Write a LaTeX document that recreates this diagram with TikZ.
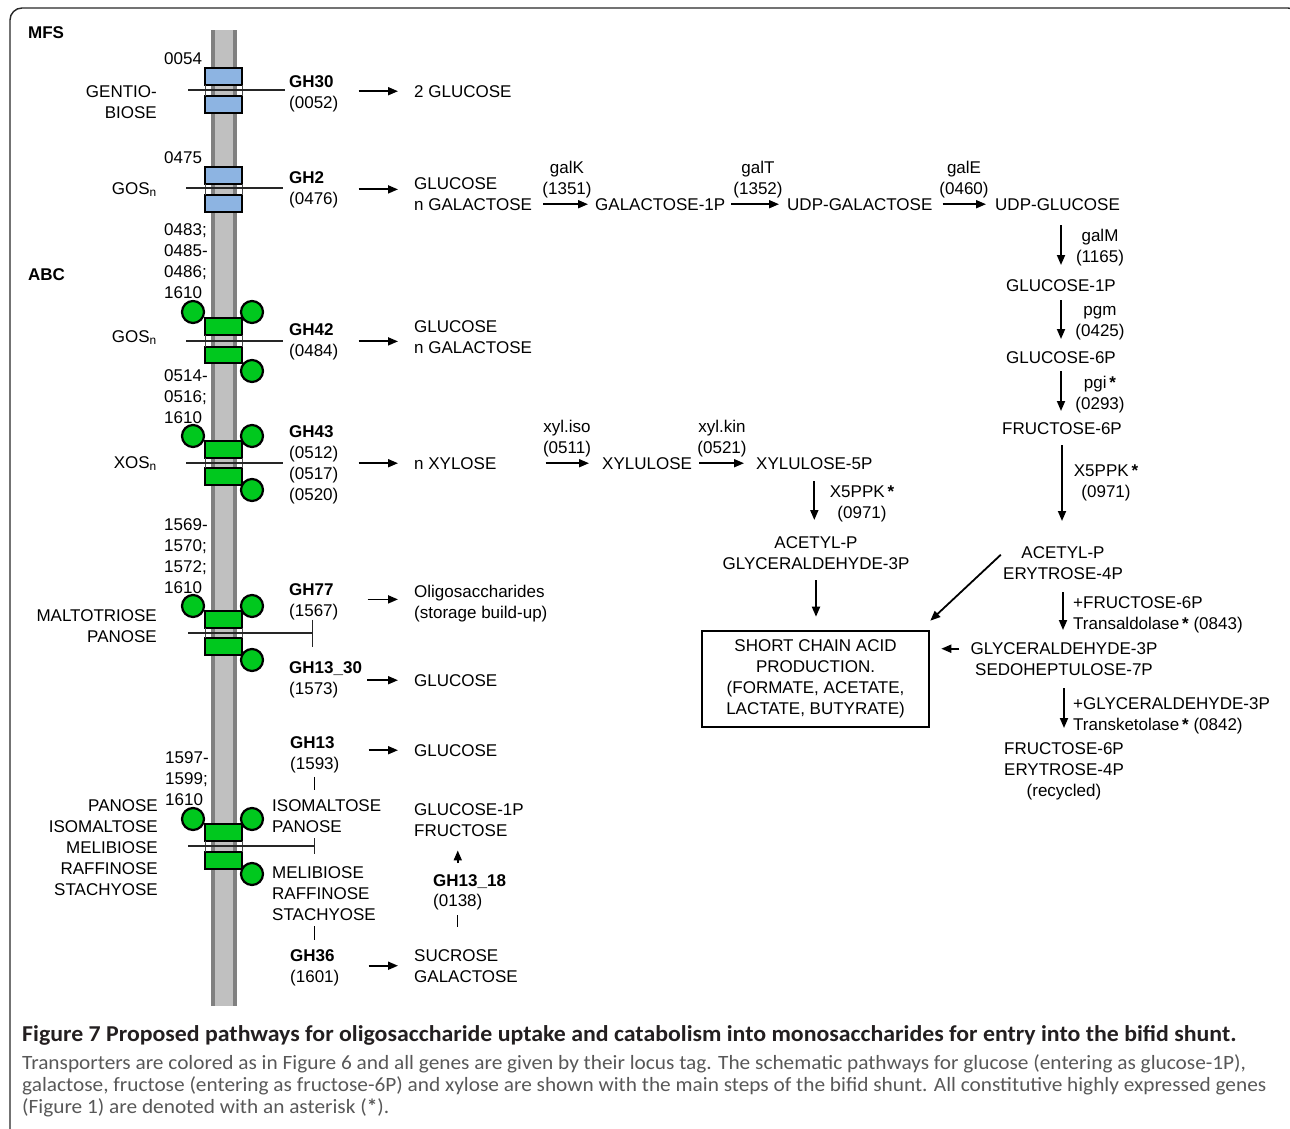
\documentclass[tikz,border=0pt]{standalone}
\usepackage{fontspec}
\setmainfont{Liberation Sans}
\newfontfamily\capfont[FakeStretch=1.05]{Carlito}
\usetikzlibrary{arrows.meta}
\definecolor{MembraneClr}{RGB}{192,192,192}
\definecolor{MembraneEdgeClr}{RGB}{128,128,128}
\definecolor{MfsClr}{RGB}{141,180,226}
\definecolor{AbcClr}{RGB}{0,200,30}
\definecolor{FrameClr}{RGB}{40,40,40}
\definecolor{CaptionClr}{RGB}{88,88,88}
\definecolor{TitleClr}{RGB}{35,31,32}

\begin{document}
\begin{tikzpicture}[x=1pt,y=-1pt,
  lbl/.style={inner sep=0pt,font=\fontsize{17}{21}\selectfont},
  arr/.style={line width=1.8pt,-{Triangle[length=10pt,width=8pt]}},
  memline/.style={line width=1.4pt,color=black!85},
  tickline/.style={line width=1.4pt},
  mfs/.style={draw,line width=2.2pt,fill=MfsClr},
  abc/.style={draw,line width=2.2pt,fill=AbcClr},
  gap/.style={line width=0.7pt,color=black!70},
  captitle/.style={inner sep=0pt,text=TitleClr,font=\capfont\fontsize{22.7}{26}\selectfont\bfseries},
  capbody/.style={inner sep=0pt,text=CaptionClr,font=\capfont\fontsize{20.3}{22}\selectfont}]
\useasboundingbox (0,0) rectangle (1290,1129);
\clip (0,0) rectangle (1290,1129);

% frame
\draw[FrameClr,line width=1.4pt,rounded corners=12pt] (10,8) rectangle (1300,1150);

% membrane
\fill[MembraneEdgeClr] (211,30) rectangle (237,1006);
\fill[MembraneClr] (215,30) rectangle (233,1006);

% MFS transporters
\draw[mfs] (205,68) rectangle (242,85);
\draw[mfs] (205,96) rectangle (242,113);
\draw[gap] (205,85) -- (205,96) (242,85) -- (242,96);
\draw[memline] (188,90) -- (285,90);

\draw[mfs] (205,167) rectangle (242,184);
\draw[mfs] (205,195) rectangle (242,212);
\draw[gap] (205,184) -- (205,195) (242,184) -- (242,195);
\draw[memline] (186,188) -- (283,188);

% ABC transporters
\draw[abc] (205,318) rectangle (242,335);
\draw[abc] (205,347) rectangle (242,363);
\draw[gap] (205,335) -- (205,347) (242,335) -- (242,347);
\draw[abc] (193,312) circle (11) (252,312) circle (11) (252,371) circle (11);
\draw[memline] (186,341) -- (283,341);

\draw[abc] (205,441) rectangle (242,458);
\draw[abc] (205,468) rectangle (242,485);
\draw[gap] (205,458) -- (205,468) (242,458) -- (242,468);
\draw[abc] (193,436) circle (11) (252,436) circle (11) (252,490) circle (11);
\draw[memline] (186,463) -- (283,463);

\draw[abc] (205,611) rectangle (242,628);
\draw[abc] (205,638) rectangle (242,655);
\draw[gap] (205,628) -- (205,638) (242,628) -- (242,638);
\draw[abc] (193,606) circle (11) (252,606) circle (11) (252,660) circle (11);
\draw[memline,-{Bar[width=27pt]}] (188,633) -- (313,633);

\draw[abc] (205,824) rectangle (242,841);
\draw[abc] (205,852) rectangle (242,869);
\draw[gap] (205,841) -- (205,852) (242,841) -- (242,852);
\draw[abc] (193,819) circle (11) (252,819) circle (11) (252,874) circle (11);
\draw[memline,-{Bar[width=16pt]}] (188,846) -- (315,846);

% left labels
\node[lbl,anchor=north west,font=\fontsize{17}{21}\selectfont\bfseries] (mfs) at (28,26) {MFS};
\node[lbl,anchor=north west,font=\fontsize{17}{21}\selectfont\bfseries] (abc) at (28,268) {ABC};
\node[lbl,anchor=north west] (t0054) at (164,52) {0054};
\node[lbl,anchor=north east,align=right] (gentio) at (157,85) {GENTIO-\\BIOSE};
\node[lbl,anchor=north west] (t0475) at (164,151) {0475};
\node[lbl,anchor=north east] (gosA) at (157,182) {GOS\textsubscript{n}};
\node[lbl,anchor=north west,align=left] (t0483) at (164,223) {0483;\\0485-\\0486;\\1610};
\node[lbl,anchor=north east] (gosB) at (157,330) {GOS\textsubscript{n}};
\node[lbl,anchor=north west,align=left] (t0514) at (164,369) {0514-\\0516;\\1610};
\node[lbl,anchor=north east] (xos) at (157,456) {XOS\textsubscript{n}};
\node[lbl,anchor=north west,align=left] (t1569) at (164,518) {1569-\\1570;\\1572;\\1610};
\node[lbl,anchor=north east,align=right] (malto) at (157,609) {MALTOTRIOSE\\PANOSE};
\node[lbl,anchor=north west,align=left] (t1597) at (165,751) {1597-\\1599;\\1610};
\node[lbl,anchor=north east,align=right] (panl) at (158,799) {PANOSE\\ISOMALTOSE\\MELIBIOSE\\RAFFINOSE\\STACHYOSE};

% glycoside hydrolases
\node[lbl,anchor=north west,align=left] (gh30) at (289,75) {\textbf{GH30}\\(0052)};
\node[lbl,anchor=north west,align=left] (gh2) at (289,171) {\textbf{GH2}\\(0476)};
\node[lbl,anchor=north west,align=left] (gh42) at (289,323) {\textbf{GH42}\\(0484)};
\node[lbl,anchor=north west,align=left] (gh43) at (289,425) {\textbf{GH43}\\(0512)\\(0517)\\(0520)};
\node[lbl,anchor=north west,align=left] (gh77) at (289,583) {\textbf{GH77}\\(1567)};
\node[lbl,anchor=north west,align=left] (gh1330) at (289,661) {\textbf{GH13\_30}\\(1573)};
\node[lbl,anchor=north west,align=left] (gh13) at (290,736) {\textbf{GH13}\\(1593)};
\node[lbl,anchor=north west,align=left] (isop) at (272,799) {ISOMALTOSE\\PANOSE};
\node[lbl,anchor=north west,align=left] (melr) at (272,866) {MELIBIOSE\\RAFFINOSE\\STACHYOSE};
\node[lbl,anchor=north west,align=left] (gh36) at (290,949) {\textbf{GH36}\\(1601)};

% products
\node[lbl,anchor=north west] (glcA) at (414,85) {2 GLUCOSE};
\node[lbl,anchor=north west,align=left] (glcgal) at (414,177) {GLUCOSE\\n GALACTOSE};
\node[lbl,anchor=north west,align=left] (glcgalB) at (414,320) {GLUCOSE\\n GALACTOSE};
\node[lbl,anchor=north west] (nxyl) at (414,457) {n XYLOSE};
\node[lbl,anchor=north west,align=left] (oligo) at (414,585) {Oligosaccharides\\(storage build-up)};
\node[lbl,anchor=north west] (glcB) at (414,674) {GLUCOSE};
\node[lbl,anchor=north west] (glcC) at (414,744) {GLUCOSE};
\node[lbl,anchor=north west,align=left] (glcfru) at (414,803) {GLUCOSE-1P\\FRUCTOSE};
\node[lbl,anchor=north west,font=\fontsize{17}{21}\selectfont\bfseries] (gh1318) at (433,874) {GH13\_18};
\node[lbl,anchor=north west] (id0138) at (433,894) {(0138)};
\node[lbl,anchor=north west,align=left] (sucgal) at (414,949) {SUCROSE\\GALACTOSE};

% galactose / glucose path
\node[lbl,anchor=north,align=center] (galk) at (567,161) {galK\\(1351)};
\node[lbl,anchor=north west] (gal1p) at (595,198) {GALACTOSE-1P};
\node[lbl,anchor=north,align=center] (galt) at (758,161) {galT\\(1352)};
\node[lbl,anchor=north west] (udpgal) at (787,198) {UDP-GALACTOSE};
\node[lbl,anchor=north,align=center] (gale) at (964,161) {galE\\(0460)};
\node[lbl,anchor=north west] (udpglc) at (995,198) {UDP-GLUCOSE};
\node[lbl,anchor=north,align=center] (galm) at (1100,229) {galM\\(1165)};
\node[lbl,anchor=north] (glc1p) at (1061,279) {GLUCOSE-1P};
\node[lbl,anchor=north,align=center] (pgm) at (1100,306) {pgm\\(0425)};
\node[lbl,anchor=north] (glc6p) at (1061,351) {GLUCOSE-6P};
\node[lbl,anchor=north,align=center] (pgi) at (1100,376) {pgi\,\textbf{*}\\(0293)};
\node[lbl,anchor=north] (fru6p) at (1062,422) {FRUCTOSE-6P};
\node[lbl,anchor=north,align=center] (xppkA) at (1106,465) {X5PPK\,\textbf{*}\\(0971)};
\node[lbl,anchor=north,align=center] (acet) at (1063,546) {ACETYL-P\\ERYTROSE-4P};
\node[lbl,anchor=north west,align=left] (tald) at (1073,596) {+FRUCTOSE-6P\\Transaldolase\,\textbf{*} (0843)};
\node[lbl,anchor=north,align=center] (gs7p) at (1064,642) {GLYCERALDEHYDE-3P\\SEDOHEPTULOSE-7P};
\node[lbl,anchor=north west,align=left] (tket) at (1073,697) {+GLYCERALDEHYDE-3P\\Transketolase\,\textbf{*} (0842)};
\node[lbl,anchor=north,align=center] (recyc) at (1064,742) {FRUCTOSE-6P\\ERYTROSE-4P\\(recycled)};

% xylose path
\node[lbl,anchor=north,align=center] (xyliso) at (567,420) {xyl.iso\\(0511)};
\node[lbl,anchor=north west] (xylu) at (602,457) {XYLULOSE};
\node[lbl,anchor=north,align=center] (xylkin) at (722,420) {xyl.kin\\(0521)};
\node[lbl,anchor=north west] (xyl5p) at (756,457) {XYLULOSE-5P};
\node[lbl,anchor=north,align=center] (xppkB) at (862,486) {X5PPK\,\textbf{*}\\(0971)};
\node[lbl,anchor=north,align=center] (xacet) at (816,536) {ACETYL-P\\GLYCERALDEHYDE-3P};
\node[lbl,draw,line width=2.6pt,align=center,minimum width=227pt,minimum height=96pt] (scfa) at (815.5,679)
  {SHORT CHAIN ACID\\PRODUCTION.\\(FORMATE, ACETATE,\\LACTATE, BUTYRATE)};

% hydrolysis arrows
\draw[arr,shorten <=20pt,shorten >=16pt] (gh30.east |- glcA.west) -- (glcA.west);
\draw[arr,shorten <=20pt,shorten >=16pt] (gh2.east) -- (gh2.east -| glcgal.west);
\draw[arr,shorten <=20pt,shorten >=16pt] (gh42.east) -- (gh42.east -| glcgalB.west);
\draw[arr,shorten <=20pt,shorten >=16pt] (gh43.east |- nxyl.west) -- (nxyl.west);
\draw[arr,shorten <=29pt,shorten >=16pt] ([yshift=2pt]gh77.east) -- ([yshift=2pt]gh77.east -| oligo.west);
\draw[arr,shorten <=5pt,shorten >=16pt] (gh1330.east |- glcB.west) -- (glcB.west);
\draw[arr,shorten <=29pt,shorten >=16pt] (gh13.east |- glcC.west) -- (glcC.west);
\draw[arr,shorten <=29pt,shorten >=16pt] (gh36.east |- sucgal.west) -- (sucgal.west);
\draw[arr,shorten <=11pt,shorten >=14pt] (id0138.north |- gh1318.north) -- (id0138.north |- glcfru.south);

\draw[tickline,shorten <=4pt,shorten >=9pt] (gh13.south) -- (gh13.south |- isop.north);
\draw[tickline,shorten <=6pt,shorten >=9pt] (gh36.north |- melr.south) -- (gh36.north);
\draw[tickline,shorten <=5pt,shorten >=22pt] (id0138.south) -- (id0138.south |- sucgal.north);

% pathway arrows
\draw[arr,shorten <=11pt,shorten >=7pt] (gal1p.west -| glcgal.east) -- (gal1p.west);
\draw[arr,shorten <=6pt,shorten >=8pt] (gal1p.east) -- (udpgal.west);
\draw[arr,shorten <=10pt,shorten >=9pt] (udpgal.east) -- (udpglc.west);
\draw[arr,shorten <=15pt,shorten >=14pt] (glc1p.north |- udpglc.south) -- (glc1p.north);
\draw[arr,shorten <=9pt,shorten >=12pt] (glc1p.south) -- (glc6p.north);
\draw[arr,shorten <=8pt,shorten >=11pt] (glc6p.south) -- (glc6p.south |- fru6p.north);
\draw[arr,shorten <=11pt,shorten >=25pt] (fru6p.south) -- (fru6p.south |- acet.north);
\draw[arr,shorten <=13pt,shorten >=12pt] (acet.south) -- (acet.south |- gs7p.north);
\draw[arr,shorten <=13pt,shorten >=14pt] (gs7p.south) -- (gs7p.south |- recyc.north);
\draw[arr,shorten <=3pt] ([yshift=10pt]acet.west) -- ([yshift=9pt]scfa.north east);
\draw[arr,shorten <=11pt,shorten >=11pt] ([yshift=10pt]gs7p.west) -- ([yshift=10pt]gs7p.west -| scfa.east);

\draw[arr,shorten <=49pt,shorten >=13pt] (nxyl.east) -- (xylu.west);
\draw[arr,shorten <=7pt,shorten >=12pt] (xylu.east) -- (xyl5p.west);
\draw[arr,shorten <=12pt,shorten >=16pt] (xyl5p.south) -- (xyl5p.south |- xacet.north);
\draw[arr,shorten <=11pt,shorten >=13pt] (xacet.south) -- (xacet.south |- scfa.north);

% caption
\node[captitle,anchor=base west] (capT) at (22,1041) {Figure 7 Proposed pathways for oligosaccharide uptake and catabolism into monosaccharides for entry into the bifid shunt.};
\node[capbody,anchor=base west] (capA) at (22,1069) {Transporters are colored as in Figure 6 and all genes are given by their locus tag. The schematic pathways for glucose (entering as glucose-1P),};
\node[capbody,anchor=base west] (capB) at (22,1091) {galactose, fructose (entering as fructose-6P) and xylose are shown with the main steps of the bifid shunt. All constitutive highly expressed genes};
\node[capbody,anchor=base west] (capC) at (22,1113) {(Figure 1) are denoted with an asterisk (\textbf{*}).};
\end{tikzpicture}
\end{document}
